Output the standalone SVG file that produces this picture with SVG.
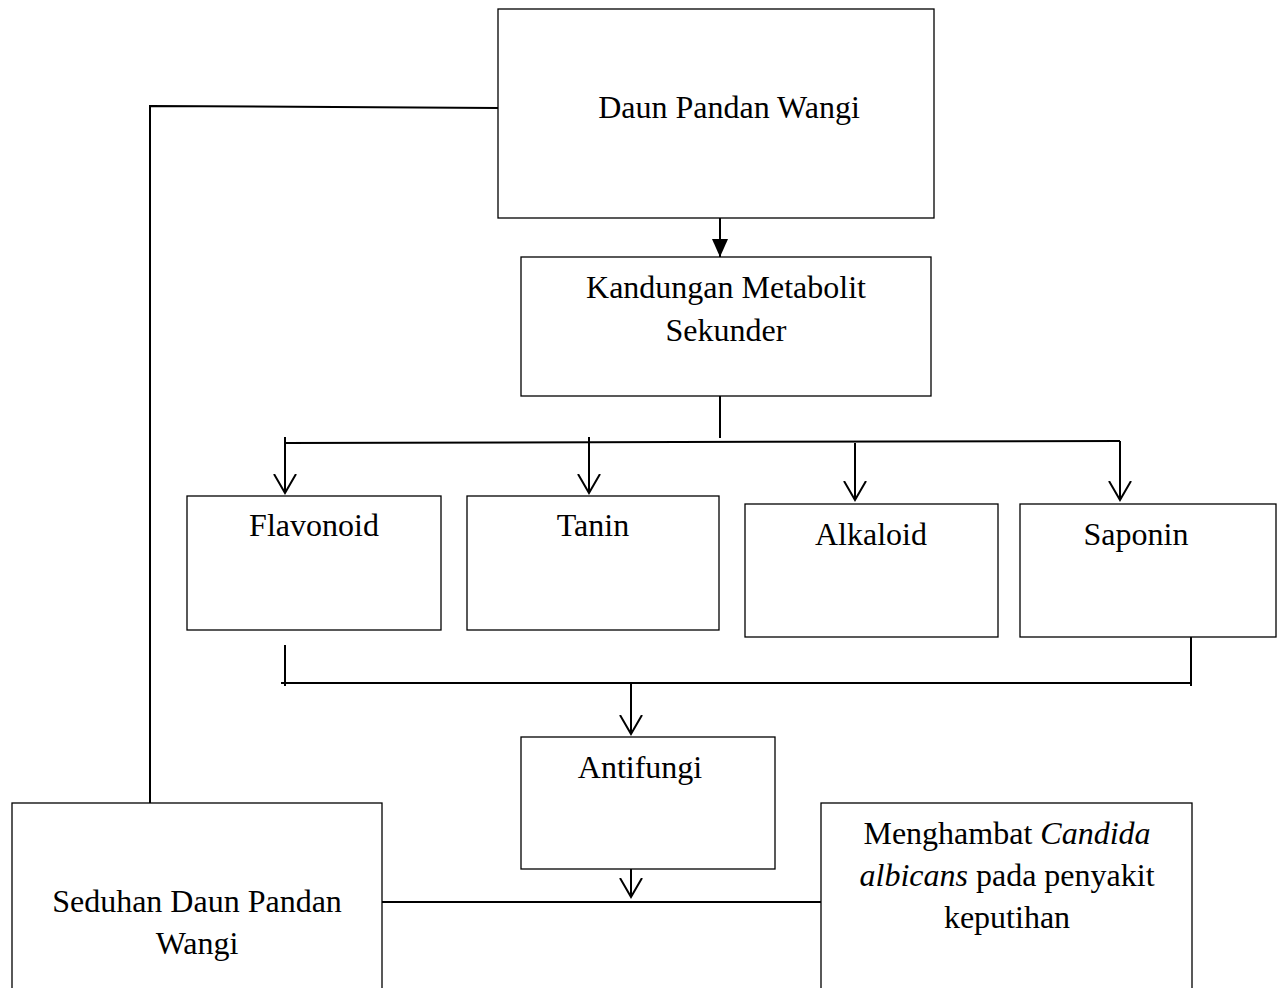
<svg xmlns="http://www.w3.org/2000/svg" width="1277" height="988" viewBox="0 0 1277 988">
<style>
.box{fill:#fff;stroke:#000;stroke-width:1.3}
.ln{fill:none;stroke:#000;stroke-width:2}
.t{font-family:"Liberation Serif","Times New Roman",serif;font-size:32px;fill:#000;text-anchor:middle}
</style>
<defs>
<marker id="fa" markerWidth="18" markerHeight="16" refX="18" refY="8" orient="auto" markerUnits="userSpaceOnUse" viewBox="0 0 18 16"><path d="M0,0 L18,8 L0,16 z" fill="#000"/></marker>
<marker id="oa" markerWidth="22" markerHeight="24" refX="19" refY="11" orient="auto" markerUnits="userSpaceOnUse" viewBox="0 0 22 22"><path d="M0,0 L19,11 L0,22" fill="none" stroke="#000" stroke-width="2"/></marker>
</defs>
<rect width="1277" height="988" fill="#fff"/>
<g id="connectors">
<polyline class="ln" points="498,108 150,106 150,803"/>
<line class="ln" x1="720" y1="218" x2="720" y2="257" marker-end="url(#fa)"/>
<line class="ln" x1="720" y1="396" x2="720" y2="438"/>
<line class="ln" x1="285" y1="443" x2="1120" y2="441"/>
<line class="ln" x1="285" y1="437" x2="285" y2="493" marker-end="url(#oa)"/>
<line class="ln" x1="589" y1="437" x2="589" y2="493" marker-end="url(#oa)"/>
<line class="ln" x1="855" y1="443" x2="855" y2="500" marker-end="url(#oa)"/>
<line class="ln" x1="1120" y1="441" x2="1120" y2="500" marker-end="url(#oa)"/>
<line class="ln" x1="285" y1="645" x2="285" y2="686"/>
<line class="ln" x1="1191" y1="637" x2="1191" y2="686"/>
<line class="ln" x1="281" y1="683" x2="1192" y2="683"/>
<line class="ln" x1="631" y1="683" x2="631" y2="734" marker-end="url(#oa)"/>
<line class="ln" x1="631" y1="869" x2="631" y2="897" marker-end="url(#oa)"/>
<line class="ln" x1="382" y1="902" x2="821" y2="902"/>
</g>
<g id="daun">
<rect class="box" x="498" y="9" width="436" height="209"/>
<text class="t" x="729" y="118">Daun Pandan Wangi</text>
</g>
<g id="kandungan">
<rect class="box" x="521" y="257" width="410" height="139"/>
<text class="t" x="726" y="298">Kandungan Metabolit</text>
<text class="t" x="726" y="341">Sekunder</text>
</g>
<g id="flavonoid">
<rect class="box" x="187" y="496" width="254" height="134"/>
<text class="t" x="314" y="536">Flavonoid</text>
</g>
<g id="tanin">
<rect class="box" x="467" y="496" width="252" height="134"/>
<text class="t" x="593" y="536">Tanin</text>
</g>
<g id="alkaloid">
<rect class="box" x="745" y="504" width="253" height="133"/>
<text class="t" x="871" y="545">Alkaloid</text>
</g>
<g id="saponin">
<rect class="box" x="1020" y="504" width="256" height="133"/>
<text class="t" x="1136" y="545">Saponin</text>
</g>
<g id="antifungi">
<rect class="box" x="521" y="737" width="254" height="132"/>
<text class="t" x="640" y="778">Antifungi</text>
</g>
<g id="seduhan">
<rect class="box" x="12" y="803" width="370" height="200"/>
<text class="t" x="197" y="912">Seduhan Daun Pandan</text>
<text class="t" x="197" y="954">Wangi</text>
</g>
<g id="menghambat">
<rect class="box" x="821" y="803" width="371" height="200"/>
<text class="t" x="1007" y="844">Menghambat <tspan font-style="italic">Candida</tspan></text>
<text class="t" x="1007" y="886"><tspan font-style="italic">albicans</tspan> pada penyakit</text>
<text class="t" x="1007" y="928">keputihan</text>
</g>
</svg>
